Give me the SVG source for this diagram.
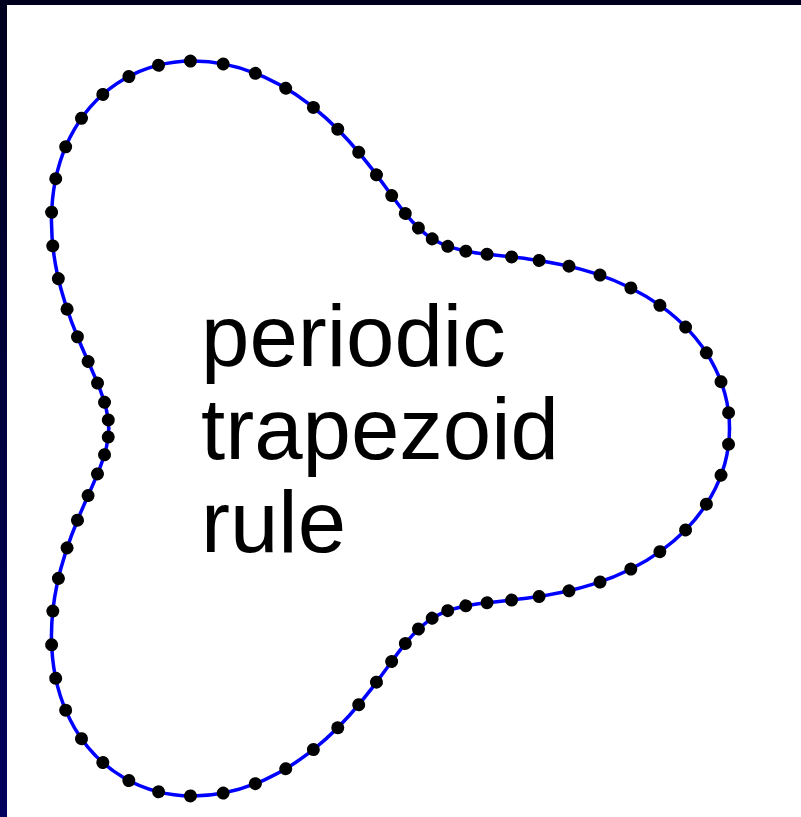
<svg xmlns="http://www.w3.org/2000/svg" xmlns:xlink="http://www.w3.org/1999/xlink" width="801" height="817" viewBox="0 0 801 817">
<defs>
<linearGradient id="bg" x1="0" y1="0" x2="0" y2="1">
<stop offset="0" stop-color="#00001e"/>
<stop offset="1" stop-color="#00005e"/>
</linearGradient>
</defs>
<style>
.curve{fill:none;stroke:#0000ff;stroke-width:3.5;stroke-linecap:round;stroke-linejoin:round}
.dot{fill:#000000}
.lbl{font-family:"Liberation Sans",Arial,sans-serif;font-size:87px;fill:#000000}
</style>
<rect x="0" y="0" width="801" height="817" fill="url(#bg)"/>
<rect x="7" y="5" width="794" height="812" fill="#ffffff"/>
<g id="curve" transform="translate(326,428.5)">
<g id="q">
<path id="s" class="curve" d="M403.52,0 C403.52,23.48 397.06,46.91 385.11,67.91 C373.15,88.90 355.76,107.39 335.43,122.09 C315.10,136.79 291.92,147.69 268.82,155.2 C245.71,162.71 222.76,166.88 202.11,169.59 C181.46,172.31 163.15,173.64 147.68,176.0 C132.22,178.37 119.59,181.85 108.64,188.17"/>
<use xlink:href="#s" href="#s" transform="scale(1,-1)"/>
</g>
<use xlink:href="#q" href="#q" transform="rotate(120)"/>
<use xlink:href="#q" href="#q" transform="rotate(240)"/>
</g>
<g id="dots" transform="translate(326,428.5)">
<g id="dh" class="dot">
<circle r="6.5" cx="402.88" transform="rotate(-2.25)"/>
<circle r="6.5" cx="397.76" transform="rotate(-6.75)"/>
<circle r="6.5" cx="387.83" transform="rotate(-11.25)"/>
<circle r="6.5" cx="373.61" transform="rotate(-15.75)"/>
<circle r="6.5" cx="355.90" transform="rotate(-20.25)"/>
<circle r="6.5" cx="335.68" transform="rotate(-24.75)"/>
<circle r="6.5" cx="314.06" transform="rotate(-29.25)"/>
<circle r="6.5" cx="292.23" transform="rotate(-33.75)"/>
<circle r="6.5" cx="271.41" transform="rotate(-38.25)"/>
<circle r="6.5" cx="252.75" transform="rotate(-42.75)"/>
<circle r="6.5" cx="237.27" transform="rotate(-47.25)"/>
<circle r="6.5" cx="225.83" transform="rotate(-51.75)"/>
<circle r="6.5" cx="219.07" transform="rotate(-56.25)"/>
<circle r="6.5" cx="217.35" transform="rotate(-60.75)"/>
<circle r="6.5" cx="220.78" transform="rotate(-65.25)"/>
<circle r="6.5" cx="229.15" transform="rotate(-69.75)"/>
<circle r="6.5" cx="242.02" transform="rotate(-74.25)"/>
<circle r="6.5" cx="258.66" transform="rotate(-78.75)"/>
<circle r="6.5" cx="278.17" transform="rotate(-83.25)"/>
<circle r="6.5" cx="299.45" transform="rotate(-87.75)"/>
<circle r="6.5" cx="321.35" transform="rotate(-92.25)"/>
<circle r="6.5" cx="342.63" transform="rotate(-96.75)"/>
<circle r="6.5" cx="362.14" transform="rotate(-101.25)"/>
<circle r="6.5" cx="378.78" transform="rotate(-105.75)"/>
<circle r="6.5" cx="391.65" transform="rotate(-110.25)"/>
<circle r="6.5" cx="400.02" transform="rotate(-114.75)"/>
<circle r="6.5" cx="403.45" transform="rotate(-119.25)"/>
<circle r="6.5" cx="401.73" transform="rotate(-123.75)"/>
<circle r="6.5" cx="394.97" transform="rotate(-128.25)"/>
<circle r="6.5" cx="383.53" transform="rotate(-132.75)"/>
<circle r="6.5" cx="368.05" transform="rotate(-137.25)"/>
<circle r="6.5" cx="349.39" transform="rotate(-141.75)"/>
<circle r="6.5" cx="328.57" transform="rotate(-146.25)"/>
<circle r="6.5" cx="306.74" transform="rotate(-150.75)"/>
<circle r="6.5" cx="285.12" transform="rotate(-155.25)"/>
<circle r="6.5" cx="264.90" transform="rotate(-159.75)"/>
<circle r="6.5" cx="247.19" transform="rotate(-164.25)"/>
<circle r="6.5" cx="232.97" transform="rotate(-168.75)"/>
<circle r="6.5" cx="223.04" transform="rotate(-173.25)"/>
<circle r="6.5" cx="217.92" transform="rotate(-177.75)"/>
</g>
<use xlink:href="#dh" href="#dh" transform="scale(1,-1)"/>
</g>
<g id="label">
<text class="lbl" x="201" y="365.5">periodic</text>
<text class="lbl" x="201" y="458.5">trapezoid</text>
<text class="lbl" x="201" y="551.5">rule</text>
</g>
</svg>
